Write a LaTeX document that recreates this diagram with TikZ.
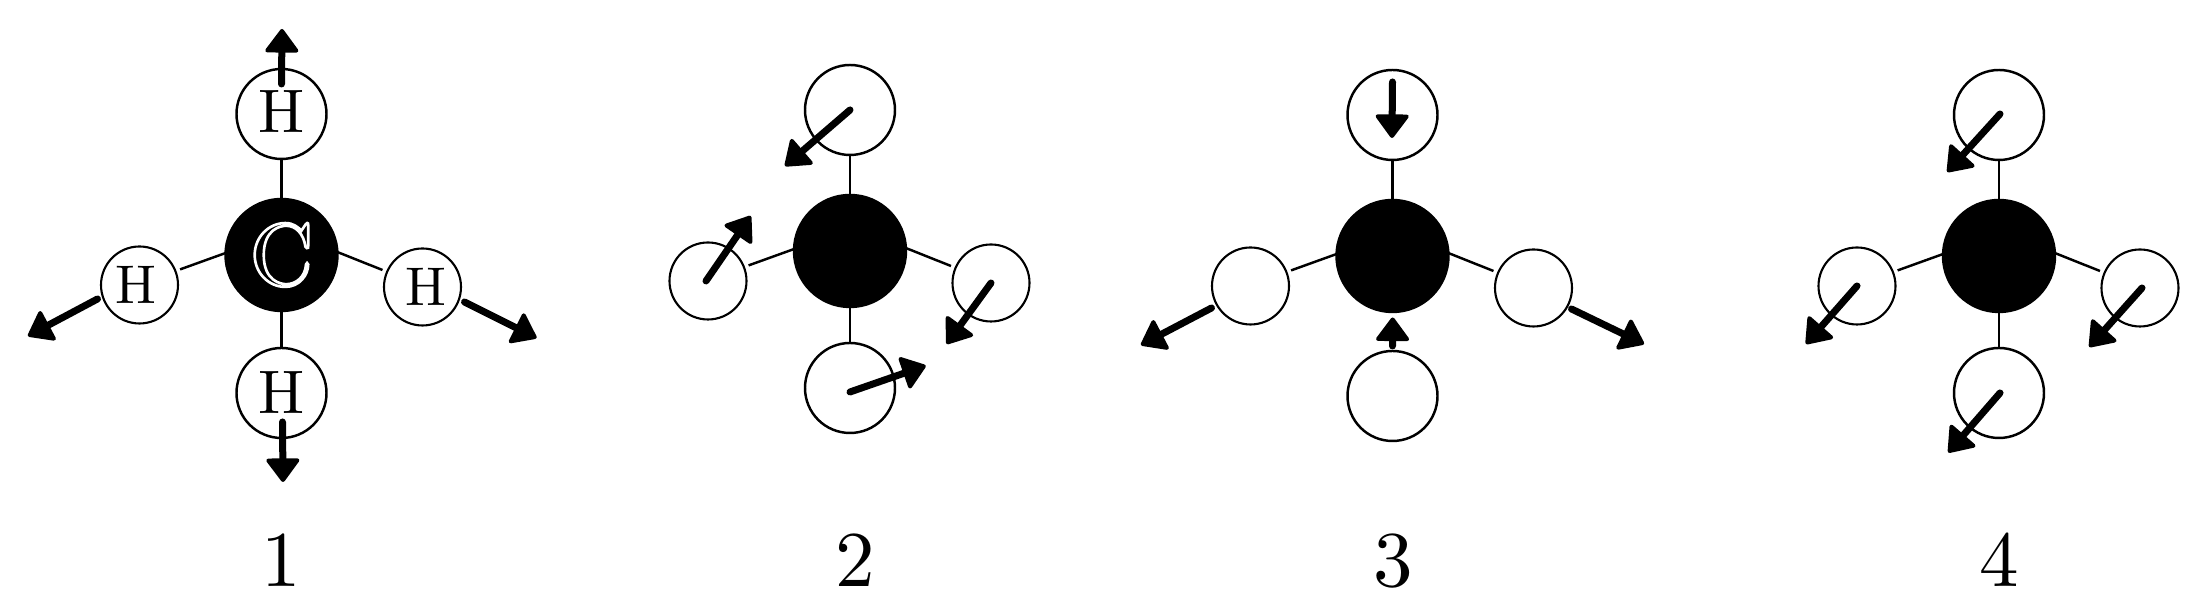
\documentclass[tikz,border=0pt]{standalone}
\usepackage{fontspec}
\setmainfont{lmroman10-regular}[Extension=.otf]
\usepackage{tikz}
\usetikzlibrary{arrows.meta}
\tikzset{
    carbon/.style={circle,draw=black,fill=black,text=white,line width=0.7pt,inner sep=0pt,outer sep=0pt,minimum size=1.12cm,font=\fontsize{25}{30}\selectfont},
    bigatom/.style={circle,draw=black,fill=white,line width=0.7pt,inner sep=0pt,outer sep=0pt,minimum size=.90cm,font=\fontsize{17.5}{21}\selectfont},
    smallatom/.style={circle,draw=black,fill=white,line width=0.6pt,inner sep=0pt,outer sep=.05cm,minimum size=.77cm,font=\fontsize{15.5}{19}\selectfont},
    bond/.style={line width=0.7pt},
    vec/.style={line width=.07cm,line cap=round,-{Triangle[round,length=.25cm,width=.36cm,line width=.04cm]}},
    modenum/.style={anchor=base,font=\fontsize{22.5}{27}\selectfont},
}
\newcommand{\hollow}[1]{\special{pdf:code 1 Tr 0.75 w}#1\special{pdf:code 0 Tr}}
\begin{document}
\begin{tikzpicture}
    \useasboundingbox (0,0) rectangle (22.07,6.10);
    % the four molecules
    \foreach \n/\x/\y/\b in {1/2.815/3.55/1.38,2/8.50/3.59/1.37,3/13.925/3.54/1.40,4/19.99/3.54/1.37}{
        \node[carbon] (C\n) at (\x,\y) {\ifnum\n=1 \hollow{C}\fi};
        \node[bigatom] (H\n t) at (\x,\y+1.41) {\ifnum\n=1 \raisebox{.04cm}{H}\fi};
        \node[bigatom] (H\n b) at (\x,\y-\b) {\ifnum\n=1 H\fi};
        \node[smallatom] (H\n l) at (\x-1.42,\y-.30) {\ifnum\n=1 \hspace*{-.07cm}H\fi};
        \node[smallatom] (H\n r) at (\x+1.41,\y-.32) {\ifnum\n=1 \hspace*{.06cm}H\fi};
        \draw[bond] (C\n.north)--(H\n t.south);
        \draw[bond] (C\n.178)--(H\n l.21);
        \draw[bond] (C\n.3)--(H\n r.157);
    }
    \foreach \n in {1,2,4}{
        \draw[bond] (C\n.south)--(H\n b.north);
    }
    % displacements
    \foreach \a/\dx/\dy/\x/\y in {
        H1t/0/.30/2.82/5.81, H1b/.01/-.29/2.83/1.28, H1l/-.42/-.14/.28/2.74, H1r/.42/-.15/5.365/2.72,
        H2t/0/0/7.85/4.44, H2l/-.02/0/7.507/3.94, H2r/0/0/9.467/2.66, H2b/0/-.04/9.257/2.443,
        H3t/0/.33/13.92/4.72, H3b/0/.50/13.927/2.925, H3l/-.39/-.22/11.41/2.65, H3r/.38/-.21/16.44/2.66,
        H4t/.01/.01/19.473/4.38, H4l/0/0/18.06/2.66, H4r/.02/0/20.893/2.63, H4b/.01/0/19.483/1.575}{
        \coordinate (tip\a) at (\x,\y);
        \draw[vec] ([shift={(\dx,\dy)}]\a.center)--(tip\a);
    }
    % numbers
    \node[modenum] (num1) at (2.815,.234) {1};
    \node[modenum] (num2) at (8.55,.234) {2};
    \node[modenum] (num3) at (13.935,.234) {3};
    \node[modenum] (num4) at (19.99,.234) {4};
\end{tikzpicture}
\end{document}
